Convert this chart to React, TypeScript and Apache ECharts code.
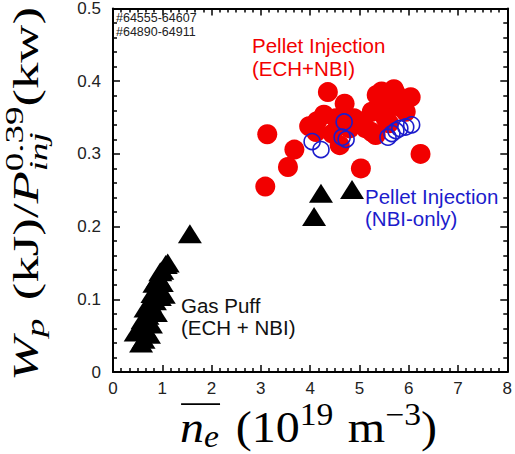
import React, { useEffect, useRef } from "react";
import * as echarts from "echarts";

// ---- data (n_e [1e19 m^-3], Wp/P^0.39) ----
const pelletEchNbi: [number, number][] = [
  [3.09, 0.255], [3.13, 0.327], [3.55, 0.282], [3.68, 0.306], [4.36, 0.385],
  [4.7, 0.369], [4.14, 0.345], [4.28, 0.354], [4.52, 0.349], [3.98, 0.338],
  [4.12, 0.33], [4.6, 0.312], [4.89, 0.349], [5.03, 0.28], [5.13, 0.335],
  [5.25, 0.33], [5.33, 0.326], [5.25, 0.358], [5.35, 0.381], [5.45, 0.386],
  [5.53, 0.349], [5.54, 0.362], [5.7, 0.389], [5.74, 0.383], [5.8, 0.365],
  [5.94, 0.358], [6.04, 0.378], [6.24, 0.3], [5.0, 0.345], [5.6, 0.342],
  [4.8, 0.335], [4.45, 0.328],
];
const pelletNbiOnly: [number, number][] = [
  [4.04, 0.317], [4.22, 0.306], [4.65, 0.323], [4.73, 0.32], [4.69, 0.344],
  [5.58, 0.323], [5.66, 0.328], [5.74, 0.332], [5.82, 0.335], [5.94, 0.337],
  [6.06, 0.34],
];
const gasPuff: [number, number][] = [
  [0.46, 0.055], [0.57, 0.04], [0.62, 0.045], [0.55, 0.062], [0.65, 0.06],
  [0.6, 0.072], [0.77, 0.066], [0.7, 0.078], [0.66, 0.088], [0.8, 0.085],
  [0.87, 0.082], [0.75, 0.095], [0.85, 0.098], [0.8, 0.108], [0.95, 0.104],
  [1.03, 0.107], [0.88, 0.114], [0.84, 0.122], [0.99, 0.123], [0.92, 0.13],
  [0.96, 0.138], [1.07, 0.148], [1.11, 0.15], [1.0, 0.14], [0.9, 0.104],
  [0.73, 0.052], [1.56, 0.19], [4.08, 0.214], [4.22, 0.246], [4.85, 0.251],
];
const shotRanges = ["#64555-64607", "#64890-64911"];
const redLabel = ["Pellet Injection", "(ECH+NBI)"];
const blueLabel = ["Pellet Injection", "(NBI-only)"];
const blackLabel = ["Gas Puff", "(ECH + NBI)"];

const SERIF = "'Liberation Serif', 'DejaVu Serif', serif";
const SANS = "'Liberation Sans', Arial, sans-serif";

type Piece = { t?: string; r?: number; it?: boolean; dy?: number; space?: number; stack?: Piece[] };

function buildTitle(pieces: Piece[], s: number) {
  const ctx = document.createElement("canvas").getContext("2d")!;
  const tw = (t: string, size: number, it: boolean) => {
    ctx.font = `${it ? "italic " : ""}${size}px ${SERIF}`;
    return ctx.measureText(t).width;
  };
  let x = 0;
  const children: any[] = [];
  const advances: number[] = [];
  for (const p of pieces) {
    if (p.space) { x += p.space * s; advances.push(p.space * s); continue; }
    const parts = p.stack ?? [p];
    let adv = 0;
    for (const q of parts) {
      const size = (q.r ?? 1) * s;
      children.push({
        type: "text",
        x,
        y: (q.dy ?? 0) * s - 0.34 * size,
        style: {
          text: q.t,
          fontSize: size,
          fontFamily: SERIF,
          fontStyle: q.it ? "italic" : "normal",
          fill: "#000",
          align: "left",
          verticalAlign: "middle",
        },
      });
      adv = Math.max(adv, tw(q.t!, size, !!q.it));
    }
    advances.push(adv);
    x += adv;
  }
  return { children, width: x, advances };
}

export default function App() {
  const ref = useRef<HTMLDivElement>(null);
  useEffect(() => {
    const chart = echarts.init(ref.current!, null, { renderer: "svg" });

    // x title: overline(n_e) (10^19 m^-3)
    const xs = 44;
    const xt = buildTitle(
      [
        { t: "n", it: true },
        { t: "e", it: true, r: 0.7, dy: 0.12 },
        { space: 0.35 },
        { t: "(10" },
        { t: "19", r: 0.7, dy: -0.38 },
        { space: 0.3 },
        { t: "m" },
        { t: "\u22123", r: 0.7, dy: -0.38 },
        { t: ")" },
      ],
      xs
    );
    xt.children.push({
      type: "line",
      shape: { x1: 1, y1: -0.86 * xs, x2: xt.advances[0] + xt.advances[1] + 1, y2: -0.86 * xs },
      style: { stroke: "#000", lineWidth: 1.6 },
    });
    const xTarget = 257;

    // y title
    const ys = 40;
    const yt = buildTitle(
      [
        { t: "W", it: true },
        { t: "p", it: true, r: 0.7, dy: 0.16 },
        { space: 0.35 },
        { t: "(kJ)/" },
        { t: "P", it: true },
        {
          stack: [
            { t: "0.39", r: 0.7, dy: -0.4 },
            { t: "inj", it: true, r: 0.7, dy: 0.26 },
          ],
        },
        { t: "(kw)" },
      ],
      ys
    );
    const yTarget = 374;

    const labelText = (x: number, y: number, t: string, color: string, size: number) => ({
      type: "text",
      x,
      y,
      style: { text: t, fill: color, fontSize: size, fontFamily: SANS, align: "left", verticalAlign: "middle" },
      z: 10,
    });

    const axisCommon = {
      axisLine: { show: true, onZero: false, lineStyle: { color: "#000", width: 2 } },
      axisTick: { show: true, inside: true, length: 7, lineStyle: { color: "#000", width: 1.5 } },
      minorTick: { show: true, length: 4, lineStyle: { color: "#000", width: 1.5 } },
      splitLine: { show: false },
      minorSplitLine: { show: false },
    };

    chart.setOption({
      animation: false,
      grid: { left: 113, right: 6, top: 6, bottom: 82, containLabel: false },
      xAxis: [
        {
          type: "value", min: 0, max: 8, interval: 1, position: "bottom",
          ...axisCommon,
          minorTick: { ...axisCommon.minorTick, splitNumber: 6 },
          axisLabel: { show: true, margin: 8, fontSize: 17, fontFamily: SANS, color: "#222" },
        },
        {
          type: "value", min: 0, max: 8, interval: 1, position: "top",
          ...axisCommon,
          minorTick: { ...axisCommon.minorTick, splitNumber: 6 },
          axisLabel: { show: false },
        },
      ],
      yAxis: [
        {
          type: "value", min: 0, max: 0.5, interval: 0.1, position: "left",
          ...axisCommon,
          minorTick: { ...axisCommon.minorTick, splitNumber: 5 },
          axisLabel: {
            show: true, margin: 12, fontSize: 17, fontFamily: SANS, color: "#222",
            formatter: (v: number) => (v === 0 ? "0" : v.toFixed(1)),
          },
        },
        {
          type: "value", min: 0, max: 0.5, interval: 0.1, position: "right",
          ...axisCommon,
          minorTick: { ...axisCommon.minorTick, splitNumber: 5 },
          axisLabel: { show: false },
        },
      ],
      series: [
        {
          type: "scatter", name: "Gas Puff", data: gasPuff, symbol: "triangle",
          symbolSize: [24, 19], itemStyle: { color: "#000", opacity: 1 }, z: 2,
        },
        {
          type: "scatter", name: "Pellet ECH+NBI", data: pelletEchNbi, symbol: "circle",
          symbolSize: 20, itemStyle: { color: "#f20000", opacity: 1 }, z: 3,
        },
        {
          type: "scatter", name: "Pellet NBI-only", data: pelletNbiOnly, symbol: "circle",
          symbolSize: 16,
          itemStyle: { color: "rgba(0,0,0,0)", borderColor: "#1c1ccc", borderWidth: 1.6, opacity: 1 },
          z: 4,
        },
      ],
      graphic: [
        {
          type: "group", x: 180, y: 442, scaleX: xTarget / xt.width, scaleY: 1,
          children: xt.children,
        },
        {
          type: "group", x: 38, y: 381, rotation: Math.PI / 2,
          scaleX: yTarget / yt.width, scaleY: 0.92,
          children: yt.children,
        },
        labelText(116, 18, shotRanges[0], "#222", 12.5),
        labelText(116, 32, shotRanges[1], "#222", 12.5),
        labelText(252, 45, redLabel[0], "#f20000", 20.5),
        labelText(252, 68, redLabel[1], "#f20000", 20.5),
        labelText(365, 196, blueLabel[0], "#1c1ccc", 20.5),
        labelText(365, 218, blueLabel[1], "#1c1ccc", 20.5),
        labelText(181, 305, blackLabel[0], "#111", 20.5),
        labelText(181, 327, blackLabel[1], "#111", 20.5),
      ],
    });
    return () => chart.dispose();
  }, []);
  return <div ref={ref} style={{ position: "absolute", left: 0, top: 0, width: 515, height: 454 }} />;
}
